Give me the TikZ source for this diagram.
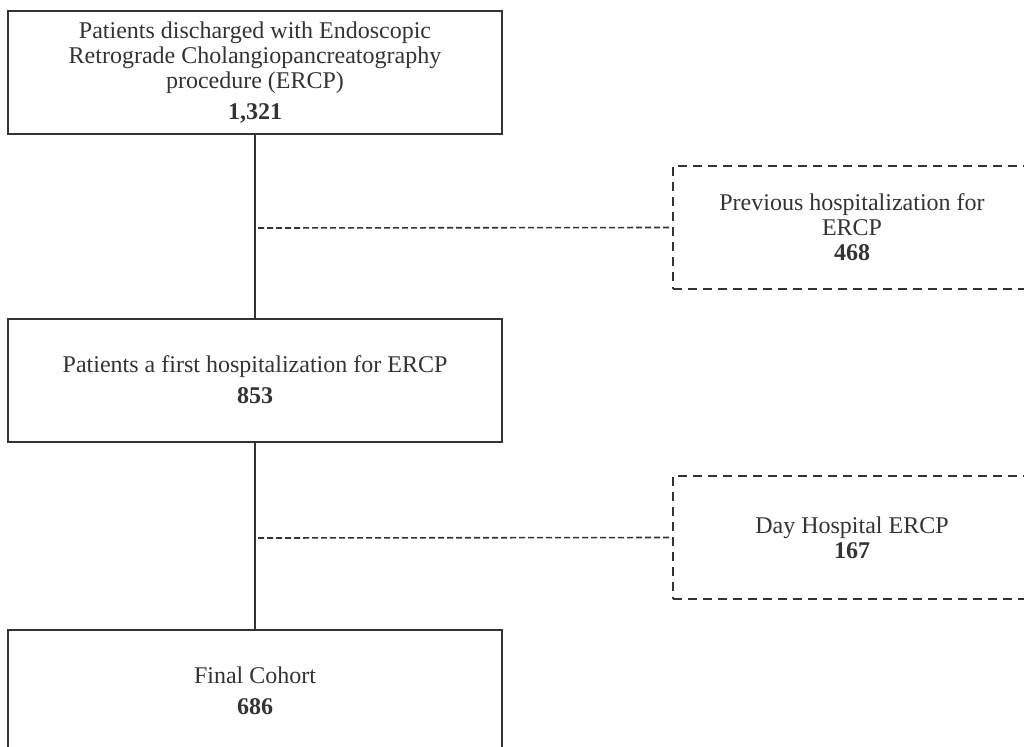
\documentclass[tikz,border=0pt]{standalone}
\usepackage{fontspec}
\setmainfont{Liberation Serif}
\definecolor{ink}{HTML}{333333}
\begin{document}
\begin{tikzpicture}[x=1pt,y=-1pt,
  solidbox/.style={draw=ink, line width=2pt, minimum width=494pt, minimum height=123pt, inner sep=0pt, align=center, text=ink, font=\fontsize{24}{25}\selectfont},
  dashbox/.style={draw=ink, line width=2pt, dash pattern=on 9pt off 6pt, minimum width=358pt, minimum height=123pt, inner sep=0pt, align=center, text=ink, font=\fontsize{24}{25}\selectfont},
  link/.style={draw=ink, line width=1.8pt},
  dlink/.style={draw=ink, line width=1.6pt, dash pattern=on 6pt off 3pt}]
\useasboundingbox (0,0) rectangle (1024,746);
\clip (0,0) rectangle (1024,746);
\node[solidbox] (top) at (255,73) {Patients discharged with Endoscopic\\Retrograde Cholangiopancreatography\\procedure (ERCP)\\[6pt]\textbf{1,321}};
\node[solidbox] (mid) at (255,380) {Patients a first hospitalization for ERCP\\[6pt]\textbf{853}};
\node[solidbox] (bot) at (255,691) {Final Cohort\\[6pt]\textbf{686}};
\node[dashbox] (ex1) at (852,227.5) {Previous hospitalization for\\ERCP\\\textbf{468}};
\node[dashbox] (ex2) at (852,537.5) {Day Hospital ERCP\\\textbf{167}};
\draw[link] (top.south) -- (mid.north);
\draw[link] (mid.south) -- (bot.north);
\coordinate (j1) at (258,228);
\coordinate (j2) at (258,538);
\draw[dlink] (j1) -- (ex1.west);
\draw[dlink] (j2) -- (ex2.west);
\end{tikzpicture}
\end{document}
